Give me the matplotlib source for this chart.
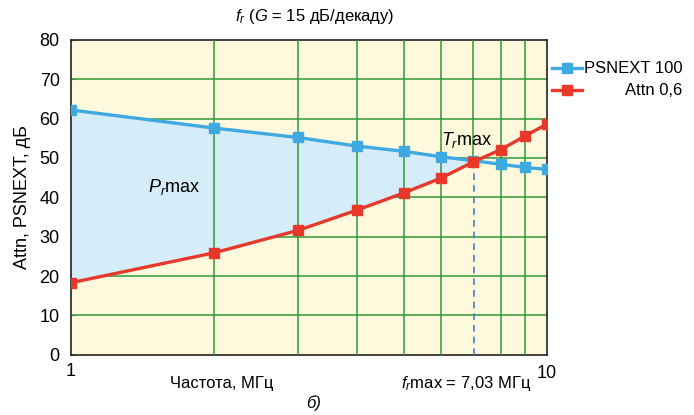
import matplotlib
matplotlib.use('Agg')
import matplotlib.pyplot as plt
from matplotlib.lines import Line2D

plt.rcParams['font.family'] = ['Liberation Sans', 'DejaVu Sans']
plt.rcParams['mathtext.fontset'] = 'custom'
plt.rcParams['mathtext.it'] = 'Liberation Sans:italic'
plt.rcParams['mathtext.rm'] = 'Liberation Sans'

# data
freq = [1, 2, 3, 4, 5, 6, 7, 8, 9, 10]
psnext = [62.2, 57.6, 55.2, 53.0, 51.7, 50.3, 49.3, 48.4, 47.6, 47.1]
attn = [18.3, 25.9, 31.6, 36.8, 41.1, 44.9, 49.0, 52.1, 55.6, 58.6]
f_max = 7.03
cross_val = 49.2
y_ticks = [0, 10, 20, 30, 40, 50, 60, 70, 80]

blue = '#3fa9e1'
red = '#e8382c'
green = '#2e9a35'

fig = plt.figure(figsize=(6.94, 4.15), dpi=100)
ax = fig.add_axes([0.102, 0.145, 0.686, 0.759])
ax.set_facecolor('#fef9dc')
ax.set_xscale('log')
ax.set_xlim(1, 10)
ax.set_ylim(0, 80)

# horizontal grid under the fill
for y in y_ticks[1:-1]:
    ax.axhline(y, color=green, lw=1.1, zorder=1)

ax.fill_between(freq, attn, psnext, where=[p >= a for p, a in zip(psnext, attn)],
                interpolate=True, color='#d5edf8', zorder=2, lw=0)

# vertical grid over the fill
for x in freq[1:-1]:
    if x == 7:
        ax.plot([x, x], [cross_val, 80], color=green, lw=1.1, zorder=3)
    else:
        ax.axvline(x, color=green, lw=1.1, zorder=3)

ax.plot([f_max, f_max], [0, cross_val], color='#4a7fc4', lw=1.2, ls=(0, (4, 3)), zorder=3)

ax.plot(freq, psnext, color=blue, lw=2.4, marker='s', ms=7, zorder=4)
ax.plot(freq, attn, color=red, lw=2.4, marker='s', ms=7, zorder=5)

ax.set_xticks([1, 10])
ax.set_xticklabels(['1', ''])
ax.set_xticks([], minor=True)
ax.set_yticks(y_ticks)
ax.tick_params(axis='both', labelsize=13, length=0, pad=6)
ax.tick_params(axis='y', direction='in', length=3, color=green, pad=8)
for s in ax.spines.values():
    s.set_color('#222222')
    s.set_linewidth(1.2)

ax.text(10, -2.5, '10', fontsize=13, ha='center', va='top')
ax.set_ylabel('Attn, PSNEXT, дБ', fontsize=13, labelpad=6)
ax.text(1.45, 42.7, r'$P_r$max', fontsize=13, va='center')
ax.text(6.0, 54.6, r'$T_r$max', fontsize=13, va='center')

fig.text(0.454, 0.96, r'$f_r$ ($G$ = 15 дБ/декаду)', fontsize=12, ha='center', va='center')
fig.text(0.32, 0.077, 'Частота, МГц', fontsize=12, ha='center', va='center')
fig.text(0.578, 0.077, r'$f_r$max = 7,03 МГц', fontsize=12, ha='left', va='center')
fig.text(0.452, 0.028, 'б)', fontsize=12, ha='center', va='center', style='italic')

# legend outside on the right
leg_rows = [(0.836, blue, 'PSNEXT 100'), (0.783, red, 'Attn 0,6')]
for y, c, lab in leg_rows:
    fig.add_artist(Line2D([0.795, 0.838], [y, y], color=c, lw=2.4, transform=fig.transFigure))
    fig.add_artist(Line2D([0.8165], [y], color=c, marker='s', ms=6.5, transform=fig.transFigure))
    fig.text(0.983, y, lab, fontsize=12, ha='right', va='center')

fig.savefig('out.png', dpi=100)
